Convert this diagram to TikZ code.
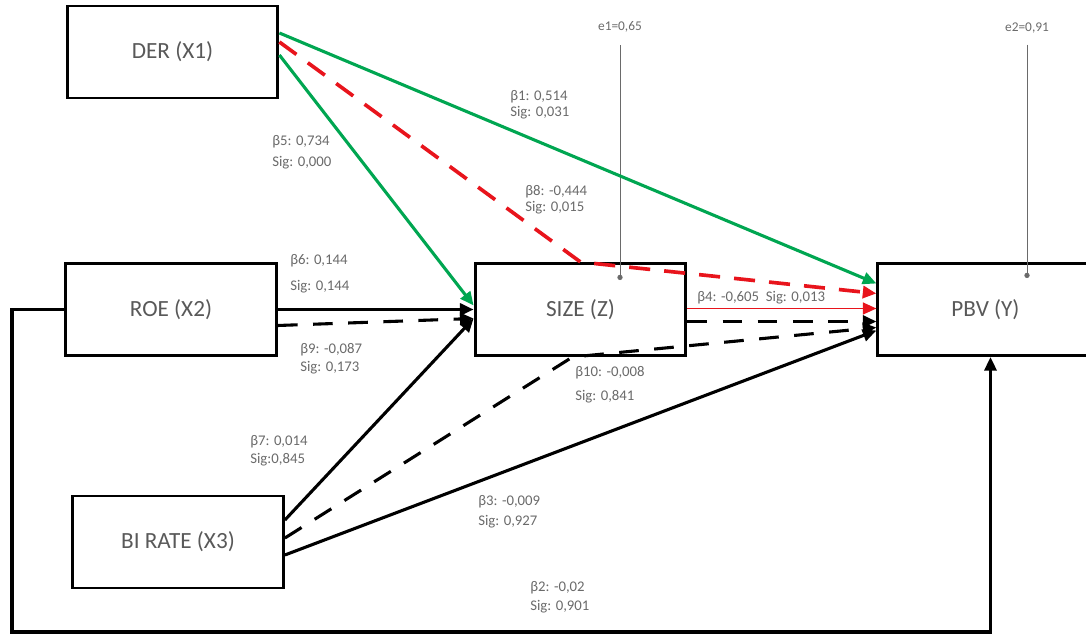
\documentclass[tikz,border=0pt]{standalone}
\usepackage{fontspec}
\setmainfont{Carlito}
\usetikzlibrary{arrows.meta,calc}
\definecolor{gruen}{HTML}{00A651}
\definecolor{rot}{HTML}{E8141C}
\definecolor{grau}{HTML}{595959}
\definecolor{hgrau}{HTML}{6A6A6A}
\tikzset{
  kasten/.style={draw=black,line width=2.1pt,fill=white,minimum width=5.27cm,minimum height=2.3cm,text=grau,font=\fontsize{16.5}{19}\selectfont},
  pfad/.style={-{Triangle[length=3.4mm,width=3mm]},line width=2.2pt},
  gestr/.style={pfad,dash pattern=on 14pt off 11pt},
  pfadgr/.style={pfad,gruen},
  pfadrot/.style={pfad,rot,line width=2.6pt,dash pattern=on 15pt off 10pt},
  fehler/.style={-{Circle[length=1.3mm]},hgrau,line width=0.6pt},
  lbl/.style={anchor=west,align=left,inner sep=0pt,text=hgrau,font=\fontsize{10.5}{13}\selectfont},
}
\begin{document}
\begin{tikzpicture}[x=0.025cm,y=-0.025cm]
  \useasboundingbox (0,0) rectangle (1086,636);
  % variables
  \node[kasten] (der) at (172.5,52) {DER (X1)};
  \node[kasten] (roe) at (171,309.5) {ROE (X2)};
  \node[kasten] (birate) at (178,542) {BI RATE (X3)};
  \node[kasten] (size) at (580.5,309.5) {SIZE (Z)};
  \node[kasten,minimum width=5.38cm] (pbv) at (985.5,309.5) {PBV (Y)};
  % error terms
  \node[lbl,anchor=center,font=\fontsize{9.5}{11}\selectfont] (e1) at (620,27) {e1=0,65};
  \node[lbl,anchor=center,font=\fontsize{9.5}{11}\selectfont] (e2) at (1027,28) {e2=0,91};
  \coordinate (z1) at (620,280);
  \coordinate (z2) at (1027,278);
  \draw[fehler,shorten <=9pt] (e1.south) -- (z1);
  \draw[fehler,shorten <=8pt] (e2.south) -- (z2);
  % paths from DER
  \draw[pfadgr] ($(der.east)+(0,-19)$) -- ($(pbv.west)+(0,-26)$);
  \draw[pfadgr] ($(der.east)+(0,3)$) -- ($(size.west)+(0,-4)$);
  \draw[pfadrot] ($(der.east)+(0,-10)$) -- (size.north) -- ($(pbv.west)+(0,-16)$);
  % paths from ROE
  \draw[pfad] (roe.east) -- (size.west);
  \draw[gestr] ($(roe.east)+(0,16)$) -- ($(size.west)+(0,9)$);
  % paths from BI RATE
  \draw[pfad] ($(birate.east)+(0,-22)$) -- ($(size.west)+(0,9)$);
  \draw[gestr] ($(birate.east)+(0,-4)$) -- ($(size.south)+(-8,0)$) -- ($(pbv.west)+(0,18)$);
  \draw[pfad] ($(birate.east)+(0,13)$) -- ($(pbv.west)+(0,21)$);
  % paths from SIZE
  \draw[pfad,rot,line width=1.1pt] ($(size.east)+(0,-1)$) -- ($(pbv.west)+(0,-1)$);
  \draw[gestr] ($(size.east)+(0,12)$) -- ($(pbv.west)+(0,12)$);
  % ROE -> PBV round the bottom
  \coordinate (ecke) at (12,632);
  \draw[pfad] (roe.west) -| (ecke) -| ($(pbv.south)+(5,0)$);
  % coefficients
  \node[lbl] (b1) at (510,105) {β1: 0,514\\[-1.5pt]Sig: 0,031};
  \node[lbl] (b8) at (525,200) {β8: -0,444\\[-1.5pt]Sig: 0,015};
  \node[lbl] (b5) at (272,152.5) {β5: 0,734\\[2pt]Sig: 0,000};
  \node[lbl] (b6) at (290,274) {β6: 0,144\\[5.5pt]Sig: 0,144};
  \node[lbl] (b9) at (300,359) {β9: -0,087\\Sig: 0,173};
  \node[lbl] (b7) at (250,451) {β7: 0,014\\Sig:0,845};
  \node[lbl] (b4) at (697,298) {β4: -0,605\ \ Sig: 0,013};
  \node[lbl] (b10) at (575,385) {β10: -0,008\\[4pt]Sig: 0,841};
  \node[lbl] (b3) at (478,512) {β3: -0,009\\[1pt]Sig: 0,927};
  \node[lbl] (b2) at (530,597.5) {β2: -0,02\\[0.5pt]Sig: 0,901};
\end{tikzpicture}
\end{document}
